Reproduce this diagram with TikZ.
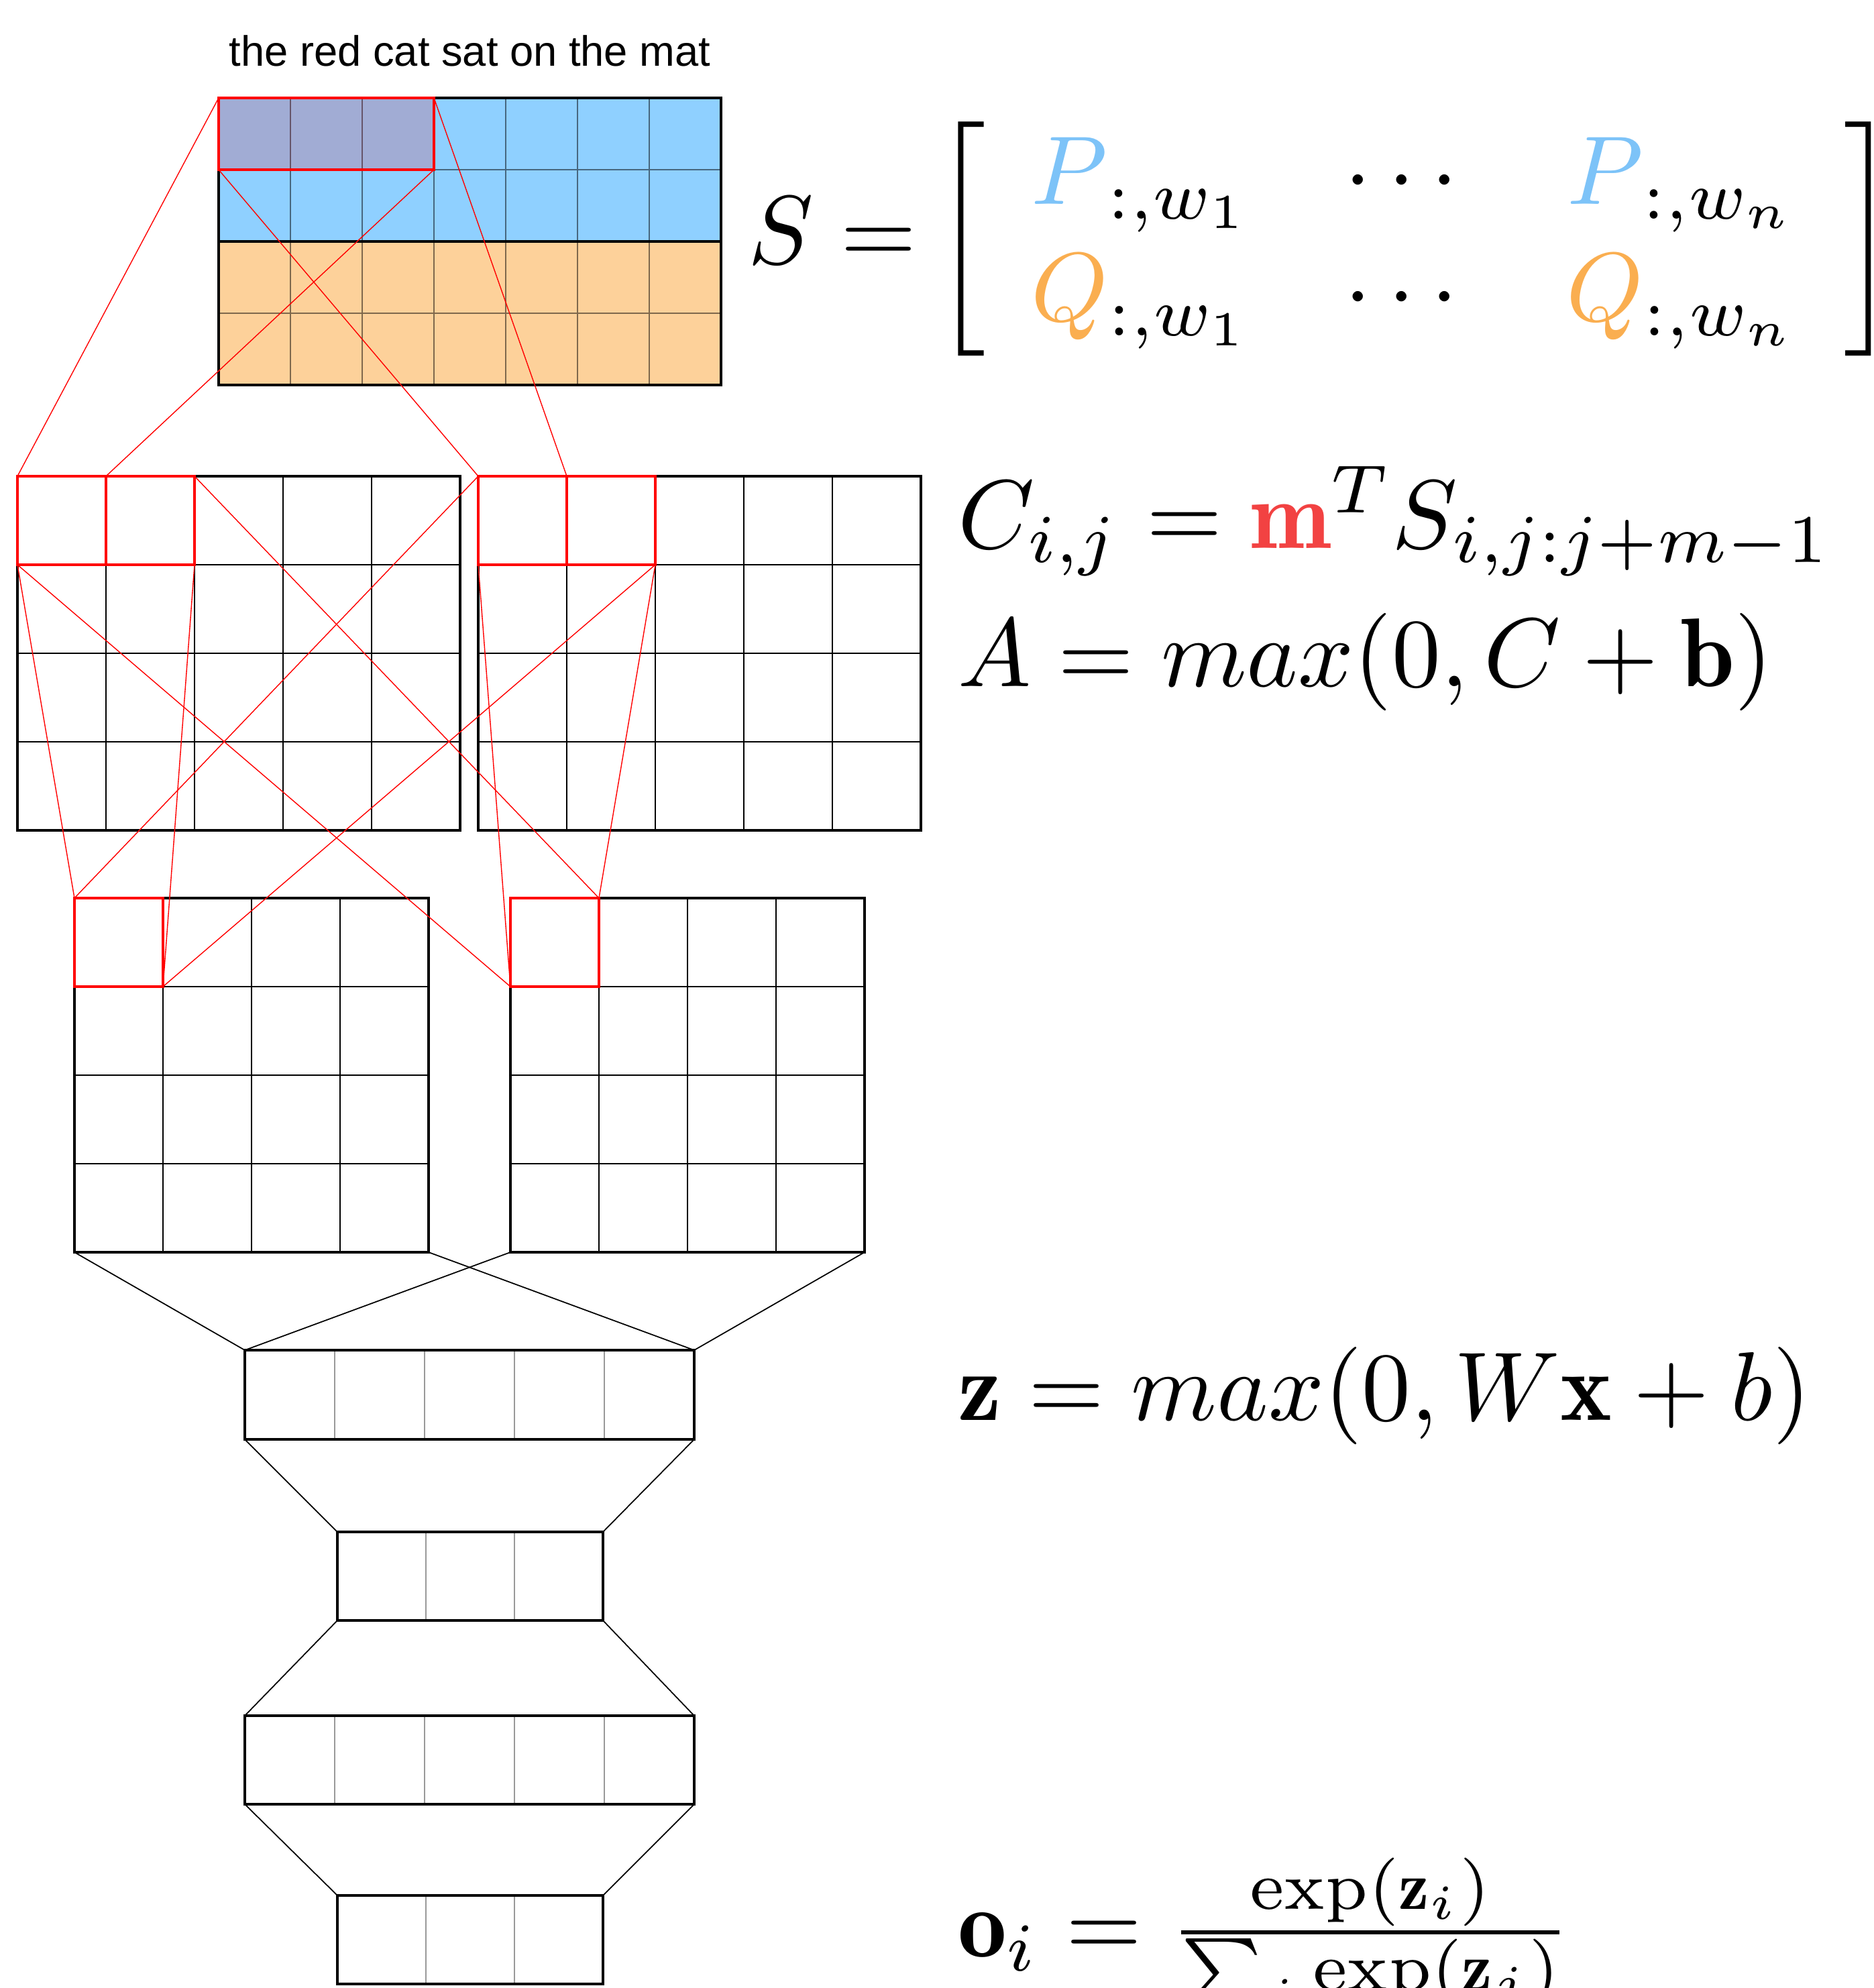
\documentclass[tikz,border=0pt]{standalone}
\usepackage{amsmath,amssymb}
\usepackage{fontspec}
\newfontfamily\wordfont{Liberation Sans}
\usetikzlibrary{positioning}

\definecolor{embblue}{RGB}{143,208,255}
\definecolor{emborange}{RGB}{253,209,154}
\definecolor{pblue}{RGB}{125,195,248}
\definecolor{qorange}{RGB}{250,174,80}
\definecolor{mred}{RGB}{242,66,66}

\begin{document}
\begin{tikzpicture}[
    every node/.style={inner sep=0pt, outer sep=0pt},
    box/.style 2 args={draw, line width=1.2pt, anchor=north west, minimum width=#1cm, minimum height=#2cm},
    window/.style 2 args={draw=red, line width=1.4pt, anchor=north west, minimum width=#1cm, minimum height=#2cm},
    cellline/.style={line width=0.5pt},
    embline/.style={line width=0.45pt, draw opacity=0.5},
    denseline/.style={line width=0.5pt, black!40},
    redlink/.style={red, line width=0.4pt},
    link/.style={line width=0.5pt},
    eq/.style={scale=4.14, anchor=base west}]

  \useasboundingbox (0,0) rectangle (27.94,-29.64);

  % Sentence matrix S
  \node[font=\wordfont\fontsize{18}{22}\selectfont, anchor=base] (sent) at (7.005,-0.98) {the red cat sat on the mat};
  \node[box={7.49}{2.14}, fill=embblue] (embP) at (3.26,-1.46) {};
  \node[box={7.49}{2.14}, fill=emborange] (embQ) at (3.26,-3.60) {};
  \draw[embline, shift={(3.26,-5.74)}] (0,0) grid[step=1.07] (7.49,4.28);
  \node[window={3.21}{1.07}, fill=red, fill opacity=0.17] (win) at (3.26,-1.46) {};

  % First convolution layer
  \draw[cellline, shift={(0.26,-12.38)}] (0,0) grid[step=1.32] (6.6,5.28);
  \draw[cellline, shift={(7.13,-12.38)}] (0,0) grid[step=1.32] (6.6,5.28);
  \node[box={6.6}{5.28}] (mapA) at (0.26,-7.10) {};
  \node[box={6.6}{5.28}] (mapB) at (7.13,-7.10) {};
  \node[window={1.32}{1.32}] (winA1) at (0.26,-7.10) {};
  \node[window={1.32}{1.32}, right=0pt of winA1] (winA2) {};
  \node[window={1.32}{1.32}] (winB1) at (7.13,-7.10) {};
  \node[window={1.32}{1.32}, right=0pt of winB1] (winB2) {};

  % Second convolution layer
  \draw[cellline, shift={(1.11,-18.67)}] (0,0) grid[step=1.32] (5.28,5.28);
  \draw[cellline, shift={(7.61,-18.67)}] (0,0) grid[step=1.32] (5.28,5.28);
  \node[box={5.28}{5.28}] (mapC) at (1.11,-13.39) {};
  \node[box={5.28}{5.28}] (mapD) at (7.61,-13.39) {};
  \node[window={1.32}{1.32}] (winC) at (1.11,-13.39) {};
  \node[window={1.32}{1.32}] (winD) at (7.61,-13.39) {};

  % Filters: S to first layer
  \draw[redlink] (win.north west) -- (winA1.north west);
  \draw[redlink] (win.south east) -- (winA1.north east);
  \draw[redlink] (win.south west) -- (winB1.north west);
  \draw[redlink] (win.north east) -- (winB1.north east);

  % Filters: first to second layer
  \draw[redlink] (winA1.south west) -- (winC.north west);
  \draw[redlink] (winA1.south west) -- (winD.south west);
  \draw[redlink] (winA2.south east) -- (winC.south east);
  \draw[redlink] (winA2.north east) -- (winD.north east);
  \draw[redlink] (winB1.north west) -- (winC.north west);
  \draw[redlink] (winB1.south west) -- (winD.south west);
  \draw[redlink] (winB2.south east) -- (winC.south east);
  \draw[redlink] (winB2.south east) -- (winD.north east);

  % Fully connected layers
  \draw[denseline, shift={(3.65,-21.46)}] (0,0) grid[xstep=1.34, ystep=5] (6.7,1.33);
  \draw[denseline, shift={(5.03,-24.16)}] (0,0) grid[xstep=1.32, ystep=5] (3.96,1.32);
  \draw[denseline, shift={(3.65,-26.90)}] (0,0) grid[xstep=1.34, ystep=5] (6.7,1.32);
  \draw[denseline, shift={(5.03,-29.58)}] (0,0) grid[xstep=1.32, ystep=5] (3.96,1.32);
  \node[box={6.7}{1.33}] (hidA) at (3.65,-20.13) {};
  \node[box={3.96}{1.32}] (hidB) at (5.03,-22.84) {};
  \node[box={6.7}{1.32}] (hidC) at (3.65,-25.58) {};
  \node[box={3.96}{1.32}] (outL) at (5.03,-28.26) {};

  \draw[link] (mapC.south west) -- (hidA.north west);
  \draw[link] (mapC.south east) -- (hidA.north east);
  \draw[link] (mapD.south west) -- (hidA.north west);
  \draw[link] (mapD.south east) -- (hidA.north east);
  \draw[link] (hidA.south west) -- (hidB.north west);
  \draw[link] (hidA.south east) -- (hidB.north east);
  \draw[link] (hidB.south west) -- (hidC.north west);
  \draw[link] (hidB.south east) -- (hidC.north east);
  \draw[link] (hidC.south west) -- (outL.north west);
  \draw[link] (hidC.south east) -- (outL.north east);

  % Equations
  \node[eq] (seq) at (11.15,-3.93) {$S =$};
  \node[eq] (smat) at (13.92,-3.93) {\setlength{\arraycolsep}{4.7pt}$\left[\begin{array}{ccc}
      \textcolor{pblue}{P}_{:,w_1} & \cdots & \textcolor{pblue}{P}_{:,w_n}\\
      \textcolor{qorange}{Q}_{:,w_1} & \cdots & \textcolor{qorange}{Q}_{:,w_n}
    \end{array}\right]$};
  \node[eq] (conveq) at (14.28,-8.17) {$C_{i,j} = \textcolor{mred}{\mathbf{m}}^T S_{i,j:j+m-1}$};
  \node[eq] (acteq) at (14.28,-10.23) {$A = max(0, C + \mathbf{b})$};
  \node[eq] (hideq) at (14.28,-21.17) {$\mathbf{z} = max(0, W\mathbf{x} + b)$};
  \node[eq] (softeq) at (14.28,-29.17) {$\mathbf{o}_i = \frac{\exp(\mathbf{z}_i)}{\sum_j \exp(\mathbf{z}_j)}$};
\end{tikzpicture}
\end{document}
